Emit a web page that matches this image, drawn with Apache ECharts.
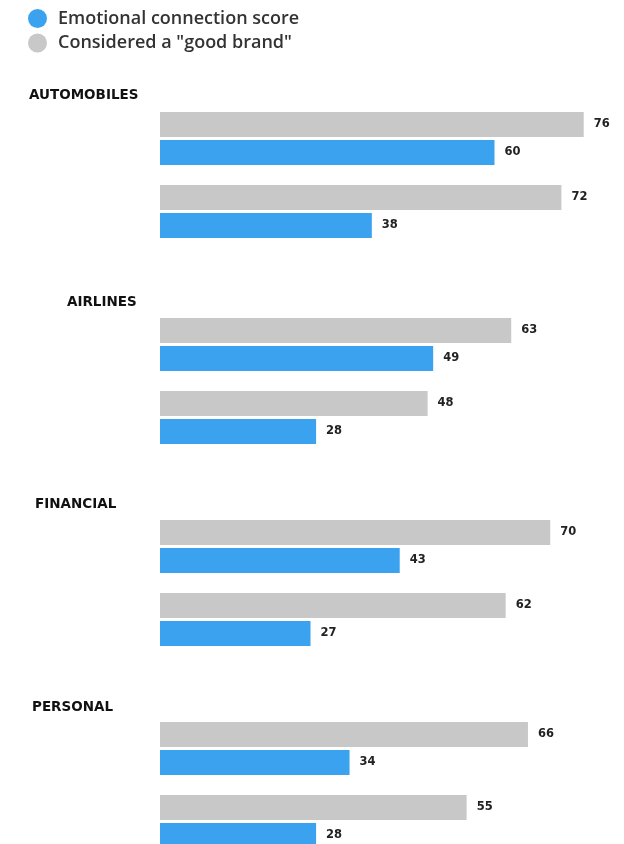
<!DOCTYPE html>
<html>
<head>
<meta charset="utf-8">
<script src="https://cdn.jsdelivr.net/npm/echarts@6/dist/echarts.min.js"></script>
<style>
  html, body { margin: 0; padding: 0; background: #fff; }
  #main { width: 624px; height: 844px; }
</style>
</head>
<body>
<div id="main"></div>
<script>
var chartDom = document.getElementById('main');
var myChart = echarts.init(chartDom);
var option;

// data
var groups = ['AUTOMOBILES', 'AIRLINES', 'FINANCIAL', 'PERSONAL'];
var rows = ['Brand 1', 'Brand 2'];
var goodBrand = [
  [76, 72],
  [63, 48],
  [70, 62],
  [66, 55]
];
var emotional = [
  [60, 38],
  [49, 28],
  [43, 27],
  [34, 28]
];
var seriesNames = ['Emotional connection score', 'Considered a "good brand"'];

var blue = '#3ba2f0';
var gray = '#c8c8c8';
var font = 'DejaVu Sans';

// layout of each block
var gridTops = [102, 308, 510, 712];
var labelLefts = [29, 67, 35, 32];
var labelTops = [88, 295, 497, 700];

var grids = [];
var xAxes = [];
var yAxes = [];
var titles = [];
var series = [];

groups.forEach(function (g, i) {
  // last block runs past the bottom edge, don't let it get squeezed
  grids.push({
    left: 160,
    top: gridTops[i],
    width: 446,
    height: 146,
    outerBoundsMode: 'none'
  });
  xAxes.push({ gridIndex: i, type: 'value', min: 0, max: 80, show: false });
  yAxes.push({
    gridIndex: i,
    type: 'category',
    data: rows,
    inverse: true,
    show: false
  });
  titles.push({
    text: g,
    left: labelLefts[i],
    top: labelTops[i],
    padding: 0,
    textStyle: { fontFamily: font, fontSize: 13.5, fontWeight: 'bold', color: '#111' }
  });
  var lbl = {
    show: true,
    position: 'right',
    distance: 10,
    fontFamily: font,
    fontSize: 11.5,
    fontWeight: 'bold',
    color: '#222'
  };
  series.push({
    name: seriesNames[1],
    type: 'bar',
    xAxisIndex: i,
    yAxisIndex: i,
    barWidth: 25,
    barGap: '12%',
    itemStyle: { color: gray },
    label: lbl,
    silent: true,
    data: goodBrand[i]
  });
  series.push({
    name: seriesNames[0],
    type: 'bar',
    xAxisIndex: i,
    yAxisIndex: i,
    barWidth: 25,
    barGap: '12%',
    itemStyle: { color: blue },
    label: lbl,
    silent: true,
    data: emotional[i]
  });
});

option = {
  animation: false,
  backgroundColor: '#fff',
  title: titles,
  legend: {
    data: seriesNames,
    orient: 'vertical',
    left: 28,
    top: 9,
    padding: 0,
    icon: 'circle',
    itemWidth: 31,
    itemHeight: 19,
    itemGap: 5.5,
    selectedMode: false,
    textStyle: { fontFamily: 'Open Sans', fontSize: 18, fontWeight: 600, color: '#333' }
  },
  grid: grids,
  xAxis: xAxes,
  yAxis: yAxes,
  series: series
};

option && myChart.setOption(option);
</script>
</body>
</html>
